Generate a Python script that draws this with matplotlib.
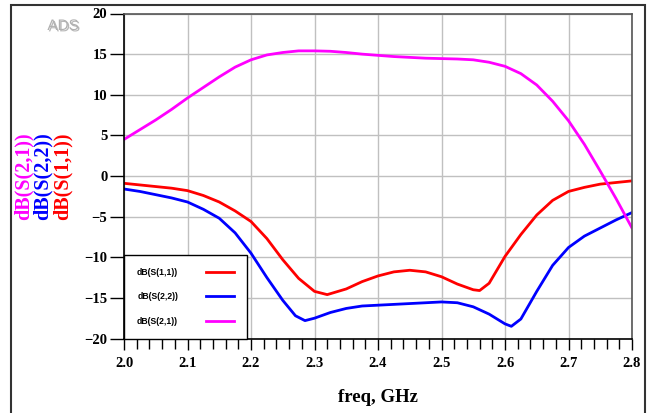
import matplotlib
matplotlib.use("Agg")
import matplotlib.pyplot as plt
import matplotlib.patheffects as pe
from matplotlib.patches import Rectangle
from matplotlib.ticker import MultipleLocator

# frequency points (GHz) and curves (dB)
freq_s21 = [2.0, 2.025, 2.05, 2.075, 2.1, 2.125, 2.15, 2.175, 2.2, 2.225,
            2.25, 2.275, 2.3, 2.325, 2.35, 2.375, 2.4, 2.425, 2.45, 2.475,
            2.5, 2.525, 2.55, 2.575, 2.6, 2.625, 2.65, 2.675, 2.7, 2.725,
            2.75, 2.775, 2.8]
s21 = [4.5, 5.7, 6.9, 8.2, 9.6, 10.9, 12.2, 13.4, 14.3, 14.9,
       15.2, 15.4, 15.4, 15.35, 15.2, 15.0, 14.85, 14.7, 14.6, 14.5,
       14.45, 14.4, 14.3, 14.0, 13.5, 12.6, 11.2, 9.2, 6.8, 3.9,
       0.6, -2.8, -6.4]

freq_s11 = [2.0, 2.025, 2.05, 2.075, 2.1, 2.125, 2.15, 2.175, 2.2, 2.225,
            2.25, 2.275, 2.3, 2.32, 2.35, 2.375, 2.4, 2.425, 2.45, 2.475,
            2.5, 2.525, 2.55, 2.56, 2.575, 2.6, 2.625, 2.65, 2.675, 2.7,
            2.725, 2.75, 2.775, 2.8]
s11 = [-0.9, -1.1, -1.3, -1.5, -1.8, -2.4, -3.2, -4.3, -5.6, -7.7,
       -10.3, -12.6, -14.2, -14.6, -13.9, -13.0, -12.3, -11.8, -11.6, -11.8,
       -12.4, -13.3, -14.0, -14.1, -13.2, -9.9, -7.2, -4.8, -3.0, -1.9,
       -1.4, -1.0, -0.8, -0.6]

freq_s22 = [2.0, 2.025, 2.05, 2.075, 2.1, 2.125, 2.15, 2.175, 2.2, 2.225,
            2.25, 2.27, 2.285, 2.3, 2.325, 2.35, 2.375, 2.4, 2.45, 2.5,
            2.525, 2.55, 2.575, 2.6, 2.61, 2.625, 2.65, 2.675, 2.7, 2.725,
            2.75, 2.775, 2.8]
s22 = [-1.6, -1.9, -2.3, -2.7, -3.2, -4.1, -5.2, -7.0, -9.5, -12.5,
       -15.3, -17.2, -17.8, -17.5, -16.8, -16.3, -16.0, -15.9, -15.7, -15.5,
       -15.6, -16.1, -17.0, -18.2, -18.5, -17.6, -14.2, -11.0, -8.8, -7.4,
       -6.4, -5.4, -4.5]

x_ticks = [2.0, 2.1, 2.2, 2.3, 2.4, 2.5, 2.6, 2.7, 2.8]
y_ticks = [-20, -15, -10, -5, 0, 5, 10, 15, 20]

fig = plt.figure(figsize=(6.52, 4.13), dpi=100)
ax = fig.add_axes([124 / 652, 74.5 / 413, 508 / 652, 325 / 413])

ax.plot(freq_s11, s11, color='#ff0000', lw=2, label='dB(S(1,1))')
ax.plot(freq_s22, s22, color='#0000ff', lw=2, label='dB(S(2,2))')
ax.plot(freq_s21, s21, color='#ff00ff', lw=2, label='dB(S(2,1))')

ax.set_xlim(2.0, 2.8)
ax.set_ylim(-20, 20)
ax.set_xticks(x_ticks)
ax.set_xticklabels(['%.1f' % v for v in x_ticks])
ax.set_yticks(y_ticks)
ax.xaxis.set_minor_locator(MultipleLocator(0.02))
ax.grid(True, color='#c0c0c0', lw=1)
ax.set_axisbelow(True)

tick_font = dict(family='Liberation Serif', weight='bold', size=10.5)
for lab in ax.get_xticklabels() + ax.get_yticklabels():
    lab.set_fontproperties(matplotlib.font_manager.FontProperties(**tick_font))
ax.tick_params(axis='y', direction='out', length=10, width=1, pad=2)
ax.tick_params(axis='x', which='major', direction='out', length=8, width=1, pad=5)
ax.tick_params(axis='x', which='minor', direction='out', length=7, width=1)

for side in ['top', 'right']:
    ax.spines[side].set_color('#555555')
    ax.spines[side].set_linewidth(1.2)
for side in ['left', 'bottom']:
    ax.spines[side].set_color('black')
    ax.spines[side].set_linewidth(1.2)

ax.set_xlabel('freq, GHz', family='Liberation Serif', weight='bold', size=13.5, labelpad=14)

leg = ax.legend(loc='lower left', bbox_to_anchor=(0, 0), borderaxespad=0,
                markerfirst=False, fancybox=False, framealpha=1,
                edgecolor='black', handlelength=3.15, handletextpad=3.3,
                borderpad=1.5, labelspacing=1.8,
                prop=dict(family='Liberation Sans', weight='bold', size=6.2))
leg.get_frame().set_linewidth(1)

# stacked y-axis labels in trace colours
ylab_font = dict(family='Liberation Serif', weight='bold', size=14.5,
                 rotation=90, ha='center', va='center')
fig.text(24 / 652, 1 - 176 / 413, 'dB(S(2,1))', color='#ff00ff', **ylab_font)
fig.text(43 / 652, 1 - 176 / 413, 'dB(S(2,2))', color='#0000ff', **ylab_font)
fig.text(63 / 652, 1 - 176 / 413, 'dB(S(1,1))', color='#ff0000', **ylab_font)

fig.text(63 / 652, 1 - 26 / 413, 'ADS', family='Liberation Sans', size=11,
         color='#b0b0b0', ha='center', va='center',
         path_effects=[pe.withSimplePatchShadow(offset=(1, -1), shadow_rgbFace='#888888', alpha=0.6)])

# outer frame of the ADS window
fig.patches.append(Rectangle((11 / 652, -0.01), 634 / 652, 1 - 5 / 413 + 0.01,
                             transform=fig.transFigure, fill=False,
                             edgecolor='#333333', lw=1.5))

fig.savefig('out.png', dpi=100)
